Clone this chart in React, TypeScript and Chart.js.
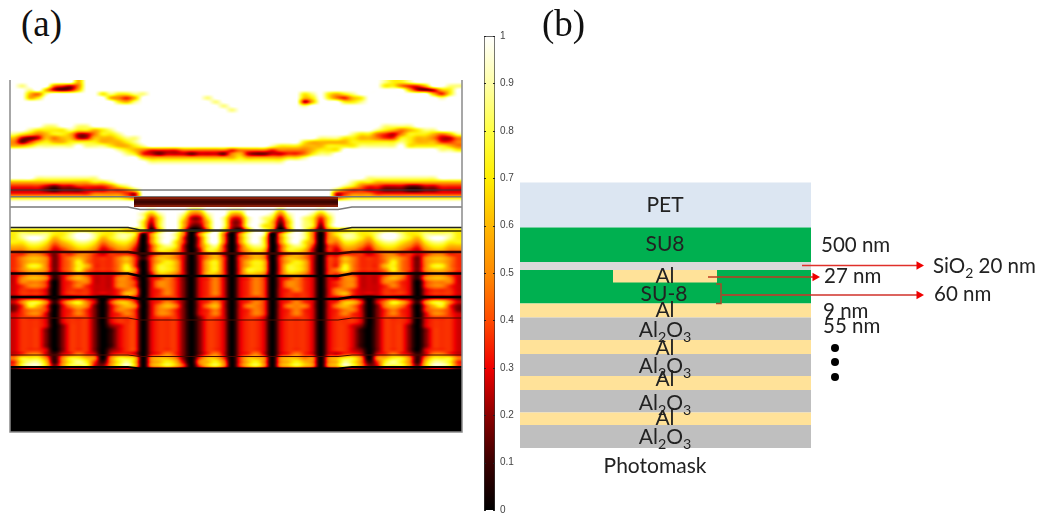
import React, { useEffect, useRef } from "react";
import { Chart, registerables } from "chart.js";

Chart.register(...registerables);

// ---------- panel (a): field intensity; each digit is a level of digitLevels ----------
const digitLevels = [0.0, 0.09, 0.18, 0.27, 0.36, 0.48, 0.6, 0.72, 0.86, 1.0];
const blankRow = "9999 9999 9999 9999  9999 9999 9999 9999 9999 9999  9999 9999 9999 9999";
const darkRow = "0000 0000 0000 0000  0000 0000 0000 0000 0000 0000  0000 0000 0000 0000";
const heatRows = [
  "9999 9999 6999 9999  9999 9999 9999 9999 9999 9999  9999 9987 7899 9999",
  "9899 9543 5999 9999  9999 9999 9999 9999 9999 9999  9999 9977 5446 9988",
  "9989 6323 6999 9999  9999 9999 9999 9999 9999 9999  9999 9999 9632 3679",
  "9965 8999 9997 8778  8999 9999 9999 9999 9999 7897  6789 9999 9999 6479",
  "9967 9999 9999 6546  9999 9999 8999 9999 9999 6797  5467 9999 9999 9899",
  "9999 9999 9999 9768  9999 9999 9899 9999 9999 3699  9778 9999 9999 9999",
  "9999 9999 9999 9999  9999 9999 9989 9999 9999 8999  9999 9999 9999 9999",
  "9999 9999 9999 9999  9999 9999 9998 9999 9999 9999  9999 9999 9999 9999",
  blankRow,
  blankRow,
  blankRow,
  "9999 8899 8899 9999  9999 9999 9999 9999 9999 9999  9999 9988 8899 9999",
  "9987 7778 7767 8999  9999 9999 9999 9999 9999 9999  9999 9876 5678 8999",
  "8765 6776 3357 7899  9999 9999 9999 9999 9999 9999  9987 7543 5777 6568",
  "6323 6566 3366 6788  9999 9999 9999 9999 9999 9988  8776 6544 7766 5335",
  "5246 7667 7776 6678  9999 9999 9999 9999 9999 7666  6677 7777 8766 6445",
  "6678 8888 9888 7667  8999 9999 9999 9999 8777 6667  7778 8888 9777 7765",
  "9999 9999 9999 9876  5444 4555 5554 5555 4555 5677  7999 9999 9999 9887",
  "9999 9999 9999 9987  4323 3323 3325 6322 3344 5788  9999 9999 9999 9999",
  "9999 9999 9999 9999  7666 6666 6666 7666 6677 8999  9999 9999 9999 9999",
  "9999 9999 9999 9999  9888 8888 8888 8888 8899 9999  9999 9999 9999 9999",
  blankRow,
  blankRow,
  blankRow,
  "9998 8888 8889 9999  9999 9999 9999 9999 9999 9999  9999 8888 8888 8999",
  "6666 6666 6677 8999  9999 9999 9999 9999 9999 9999  9987 7666 6666 6666",
  "4444 3233 4444 5789  9999 9999 9999 9999 9999 9999  9875 4433 3223 3444",
  "3333 2122 2333 4457  9999 9999 9999 9999 9999 9999  7544 3322 2112 2333",
  "4444 4444 4455 5543  9999 9999 9999 9999 9999 9999  3455 5444 4444 4444",
  "7777 7777 7777 7765  9999 9999 9999 9999 9999 9999  5677 7777 7777 7777",
  blankRow,
  blankRow,
  "9999 9999 9999 9999  9899 9977 9998 8999 9799 9989  9999 9999 9999 9999",
  "9999 9999 9999 9999  8689 9855 8996 6999 8589 9868  9999 9999 9999 9999",
  "9999 9999 9999 9999  8479 9733 7984 4898 7379 8747  9999 9999 9999 9999",
  "9999 9999 9999 9999  7379 9633 6983 3898 6269 8737  9999 9999 9999 9999",
  "9999 9999 9999 9999  7279 9622 6983 3897 6169 8727  9999 9999 9999 9999",
  "7777 7777 7777 7766  7169 9501 5972 1698 5059 8515  6677 7777 7777 7777",
  "7888 8778 9987 7887  1589 8505 8950 5898 0589 8505  7887 7899 8778 8887",
  "7899 8678 9986 7886  0589 8404 8950 5897 0589 8505  6887 6899 8768 9987",
  "7788 7567 8875 6775  0589 7404 8950 5897 0589 7505  5776 5788 7657 8877",
  "6677 6456 7764 5664  0478 7304 7840 4787 0478 7404  4665 4677 6546 7766",
  "5566 5345 6653 4553  0477 6303 7740 4676 0477 6304  3554 3566 5435 6655",
  "4455 4244 5543 4443  0356 5303 5630 3565 0356 5303  3444 3455 4434 5544",
  "4566 5245 6544 4564  1466 5303 5640 4565 0466 5304  4654 4456 5425 6654",
  "4566 5245 7544 4564  0467 6303 6740 4676 0467 6304  4654 4457 5425 6654",
  "4577 5245 7644 4574  0477 6303 6740 4676 0477 6304  4754 4467 5425 7754",
  "4566 5245 7544 4575  0477 6303 6740 4776 0477 6304  5754 4457 5425 6654",
  "3455 4134 5433 3454  0366 5303 6640 4665 0466 5304  4543 3345 5314 5543",
  "3566 5135 6533 3553  0345 4203 4530 3454 0345 4303  3553 3356 5315 6653",
  "3555 4034 5533 3554  0355 4203 4530 3454 0355 4303  4553 3355 4304 5553",
  "3455 4034 5433 3554  0355 4203 4530 3454 0355 4303  4553 3345 4304 5543",
  "3444 3034 4433 3455  0345 4203 4530 3454 0345 4303  5543 3344 4303 4443",
  "3444 3034 4433 3465  0345 4203 4530 3454 0344 4303  5643 3344 4303 4443",
  "2333 2022 3320 2333  0344 4203 4430 3444 0344 4303  3332 0233 2202 3332",
  "3577 5146 7530 4664  0345 4203 4530 3454 0345 4303  4664 0357 6415 7753",
  "2476 4035 6520 3565  0356 5203 5630 3554 0355 5303  5653 0256 5304 6742",
  "2455 4034 5420 3554  0355 4203 4530 3454 0345 4303  4553 0245 4304 5542",
  "3455 3034 5420 3454  0355 4203 4530 3454 0345 4303  4543 0245 4303 5543",
  "3444 3034 4420 3444  0344 4202 4430 3443 0344 4303  4443 0244 4303 4443",
  "3444 3034 4420 3444  0344 4202 4430 3443 0344 4303  4443 0244 4303 4443",
  "3444 3024 4420 2344  0344 4202 4430 3443 0344 4303  4432 0244 4203 4443",
  "3444 2024 4420 1344  0344 4202 4430 3443 0344 4303  4431 0244 4202 4443",
  "3444 2024 4420 1344  0344 4202 4430 3443 0344 4303  4431 0244 4202 4443",
  "3444 2024 4420 1344  0344 4202 4430 3443 0344 4303  4431 0244 4202 4443",
  "3444 2024 4420 1344  0344 4202 4430 3443 0344 4303  4431 0244 4202 4443",
  "3444 2024 4420 1344  0344 4202 4430 3443 0344 4303  4431 0244 4202 4443",
  "3444 3024 4420 2344  0344 4202 4430 3443 0344 4303  4432 0244 4203 4443",
  "3455 3134 5430 3443  0345 4202 4530 3453 0345 4303  3443 0345 4313 5543",
  "5777 5157 7650 5776  0566 5204 6640 4665 0566 5505  6775 0567 7515 7775",
  "4788 6157 8741 5786  0567 6305 6750 4675 0567 6505  6875 1478 7516 8874",
  "4788 6257 7732 5786  0567 6404 6750 4675 0567 6505  6875 2377 7526 8874",
  darkRow,
  darkRow,
  darkRow,
  darkRow,
  darkRow,
  darkRow,
  darkRow,
  darkRow,
  darkRow,
  darkRow,
  darkRow,
  darkRow,
  darkRow,
  darkRow,
  darkRow,
  darkRow,
];

const colorStopValues = [0, 0.1, 0.2, 0.3, 0.4, 0.5, 0.6, 0.7, 0.8, 0.9, 1];
const colorStopHex = ["#000000", "#3a0000", "#8c0000", "#f00000", "#ff4a00", "#ff8a00", "#ffb800", "#ffee00", "#ffff44", "#ffffa8", "#ffffff"];

// interface lines of the simulated stack, in the panel's own units
const plateX = [124, 328];
const plateY = [122, 122];
const bendX = [0, 118, 130, 328, 342, 452];
const line190Y = [110, 110, 110, 110, 110, 110];
const line197Y = [116.7, 116.7, 116.7, 116.7, 116.7, 116.7];
const line207Y = [127, 127, 129.5, 129.5, 127, 127];
const line228Y = [147.5, 147.5, 150, 150, 147.5, 147.5];
const line231Y = [151, 151, 151, 151, 151, 151];
const line252Y = [172, 172, 173.5, 173.5, 172, 172];
const line273Y = [193.6, 193.6, 196, 196, 193.6, 193.6];
const line297Y = [217, 217, 219, 219, 217, 217];
const line318Y = [238, 238, 240, 240, 238, 238];
const line355Y = [275, 275, 276.5, 276.5, 275, 275];
const line367Y = [287, 287, 288.5, 288.5, 287, 287];
const frameX = [0, 0, 452, 452];
const frameY = [0, 352, 352, 0];

// ---------- colour bar ----------
const colorBarRange = [0, 1];

// ---------- panel (b): layer stack, depth from the top of PET ----------
const layerNames = ["PET", "SU8", "SiO2", "SU-8", "Al", "Al2O3", "Al", "Al2O3", "Al", "Al2O3", "Al", "Al2O3"];
const layerTop = [0, 45, 79.5, 87.5, 121, 135, 157.5, 171.5, 193.5, 207.5, 230, 242.5];
const layerBottom = [45, 79.5, 87.5, 121, 135, 157.5, 171.5, 193.5, 207.5, 230, 242.5, 265.5];
const layerColors = ["#dce6f2", "#00b050", "#d9d9d9", "#00b050", "#ffe299", "#bfbfbf", "#ffe299", "#bfbfbf", "#ffe299", "#bfbfbf", "#ffe299", "#bfbfbf"];
const insetTop = [87.5];
const insetBottom = [100];

const stackLabels = ["PET", "SU8", "Al", "SU-8", "Al", "Al_2O_3", "Al", "Al_2O_3", "Al", "Al_2O_3", "Al", "Al_2O_3", "Photomask"];
const stackLabelX = [145, 145, 145, 144, 145, 145, 145, 145, 145, 145, 145, 145, 135];
const stackLabelY = [29.5, 68.5, 100.5, 118, 134.5, 154.5, 172, 190.5, 203.5, 227.5, 242.5, 261.5, 290.5];
const sideLabels = ["500 nm", "SiO_2 20 nm", "27 nm", "60 nm", "9 nm", "55 nm"];
const sideLabelX = [301, 413, 304, 414, 303, 303];
const sideLabelY = [69.5, 90.5, 100.5, 118.5, 135.5, 150.5];

const arrowSiO2X = [282, 399];
const arrowSiO2Y = [83, 83];
const arrowAlX = [188, 295];
const arrowAlY = [94.5, 94.5];
const arrowSu8X = [202, 399];
const arrowSu8Y = [112.5, 112.5];
const braceX = [196, 201, 201, 196];
const braceY = [101.5, 101.5, 121, 121];
const dotsX = [315, 315, 315];
const dotsY = [165.5, 179.5, 194.5];

const hexToRgb = (h: string) => [parseInt(h.slice(1, 3), 16), parseInt(h.slice(3, 5), 16), parseInt(h.slice(5, 7), 16)];

function heatColor(v: number) {
  let i = 0;
  while (i < colorStopValues.length - 2 && v > colorStopValues[i + 1]) i++;
  const t = (v - colorStopValues[i]) / (colorStopValues[i + 1] - colorStopValues[i]);
  const a = hexToRgb(colorStopHex[i]);
  const b = hexToRgb(colorStopHex[i + 1]);
  return a.map((c, k) => Math.round(c + (b[k] - c) * t));
}

const zip = (xs: number[], ys: number[]) => xs.map((x, i) => ({ x, y: ys[i] }));

const lineSet = (xs: number[], ys: number[], color: string, width: number) => ({
  type: "line" as const,
  data: zip(xs, ys),
  borderColor: color,
  borderWidth: width,
  pointRadius: 0,
  tension: 0,
  fill: false,
  clip: false as any,
  borderCapStyle: "butt" as const,
});

const catmull = (a: number, b: number, c: number, d: number, t: number) =>
  0.5 * (2 * b + (c - a) * t + (2 * a - 5 * b + 4 * c - d) * t * t + (3 * b - a - 3 * c + d) * t * t * t);

const heatmapPlugin = {
  id: "heatmap",
  beforeDatasetsDraw(chart: any) {
    const grid = heatRows.map((r) => Array.from(r.replace(/\s+/g, "")).map((d) => digitLevels[Number(d)]));
    const nRows = grid.length;
    const nCols = grid[0].length;
    const { x, y } = chart.scales;
    const px0 = Math.round(x.getPixelForValue(0));
    const py0 = Math.round(y.getPixelForValue(0));
    const w = Math.round(x.getPixelForValue(452)) - px0;
    const h = Math.round(y.getPixelForValue(352)) - py0;
    const img = chart.ctx.createImageData(w, h);
    const at = (r: number, c: number) => grid[Math.max(0, Math.min(nRows - 1, r))][Math.max(0, Math.min(nCols - 1, c))];
    for (let py = 0; py < h; py++) {
      const fy = ((py + 0.5) / h) * nRows - 0.5;
      const ry = Math.floor(fy);
      const ty = fy - ry;
      for (let px = 0; px < w; px++) {
        const fx = ((px + 0.5) / w) * nCols - 0.5;
        const cx = Math.floor(fx);
        const tx = fx - cx;
        const col = [-1, 0, 1, 2].map((dr) =>
          catmull(at(ry + dr, cx - 1), at(ry + dr, cx), at(ry + dr, cx + 1), at(ry + dr, cx + 2), tx)
        );
        const v = Math.max(0, Math.min(1, catmull(col[0], col[1], col[2], col[3], ty)));
        const [R, G, B] = heatColor(v);
        const o = (py * w + px) * 4;
        img.data[o] = R;
        img.data[o + 1] = G;
        img.data[o + 2] = B;
        img.data[o + 3] = 255;
      }
    }
    chart.ctx.putImageData(img, px0, py0);
  },
};

function drawRich(ctx: CanvasRenderingContext2D, text: string, x: number, y: number, size: number, center: boolean) {
  const parts: { t: string; sub: boolean }[] = [];
  const raw = text.split("_");
  raw.forEach((p, i) => {
    if (i === 0) parts.push({ t: p, sub: false });
    else {
      parts.push({ t: p[0], sub: true });
      if (p.length > 1) parts.push({ t: p.slice(1), sub: false });
    }
  });
  const font = (s: number) => `${s}px Lato`;
  let width = 0;
  parts.forEach((p) => {
    ctx.font = font(p.sub ? size * 0.68 : size);
    width += ctx.measureText(p.t).width;
  });
  let cx = center ? x - width / 2 : x;
  parts.forEach((p) => {
    ctx.font = font(p.sub ? size * 0.68 : size);
    ctx.fillText(p.t, cx, p.sub ? y + size * 0.22 : y);
    cx += ctx.measureText(p.t).width;
  });
}

const stackTextPlugin = {
  id: "stackText",
  afterDatasetsDraw(chart: any) {
    const { x, y } = chart.scales;
    const ctx: CanvasRenderingContext2D = chart.ctx;
    ctx.save();
    ctx.fillStyle = "#222222";
    ctx.textBaseline = "alphabetic";
    ctx.textAlign = "left";
    stackLabels.forEach((t, i) => drawRich(ctx, t, x.getPixelForValue(stackLabelX[i]), y.getPixelForValue(stackLabelY[i]), 21, true));
    sideLabels.forEach((t, i) => drawRich(ctx, t, x.getPixelForValue(sideLabelX[i]), y.getPixelForValue(sideLabelY[i]), 20.5, false));
    ctx.restore();
  },
};

const barTicksPlugin = {
  id: "barTicks",
  afterDatasetsDraw(chart: any) {
    const { y } = chart.scales;
    const { left, right } = chart.chartArea;
    const ctx: CanvasRenderingContext2D = chart.ctx;
    ctx.save();
    ctx.strokeStyle = "#222222";
    ctx.lineWidth = 1;
    y.ticks.forEach((t: any) => {
      const p = Math.round(y.getPixelForValue(t.value)) + 0.5;
      ctx.beginPath();
      ctx.moveTo(left, p);
      ctx.lineTo(left + 2, p);
      ctx.moveTo(right - 2, p);
      ctx.lineTo(right, p);
      ctx.stroke();
    });
    ctx.restore();
  },
};

const hiddenPlugins = { legend: { display: false }, tooltip: { enabled: false }, title: { display: false } };

export default function App() {
  const heatRef = useRef<HTMLCanvasElement>(null);
  const barRef = useRef<HTMLCanvasElement>(null);
  const stackRef = useRef<HTMLCanvasElement>(null);

  useEffect(() => {
    const heat = new Chart(heatRef.current!, {
      type: "line",
      plugins: [heatmapPlugin],
      data: {
        datasets: [
          lineSet(frameX, frameY, "#8a8a8a", 1.5),
          lineSet(plateX, plateY, "#3c0500", 3),
          lineSet(plateX, plateY, "#5a0c02", 6),
          lineSet(plateX, plateY, "#86200a", 10),
          lineSet(bendX, line190Y, "#3a3a3a", 1),
          lineSet(bendX, line197Y, "#7a7a7a", 1.5),
          lineSet(bendX, line207Y, "#7a7a7a", 1.5),
          lineSet(bendX, line228Y, "#222222", 1.3),
          lineSet(bendX, line231Y, "#3a3000", 1.3),
          lineSet(bendX, line252Y, "#3a0500", 2.5),
          lineSet(bendX, line273Y, "#0a0000", 2.5),
          lineSet(bendX, line297Y, "#0a0000", 2.5),
          lineSet(bendX, line318Y, "#4a0800", 1),
          lineSet(bendX, line355Y, "#4a0800", 1),
          lineSet(bendX, line367Y, "#000000", 2),
        ] as any,
      },
      options: {
        responsive: false,
        animation: false,
        layout: { padding: 2, autoPadding: false },
        plugins: hiddenPlugins,
        scales: {
          x: { type: "linear", display: false, min: 0, max: 452 },
          y: { type: "linear", display: false, min: 0, max: 352, reverse: true },
        },
      } as any,
    });

    const bar = new Chart(barRef.current!, {
      type: "bar",
      plugins: [barTicksPlugin],
      data: {
        labels: [""],
        datasets: [
          {
            data: [colorBarRange[1]],
            backgroundColor: (c: any) => {
              const { chart } = c;
              const area = chart.chartArea;
              if (!area) return "#000000";
              const g = chart.ctx.createLinearGradient(0, area.bottom, 0, area.top);
              colorStopValues.forEach((v, i) => g.addColorStop(v, colorStopHex[i]));
              return g;
            },
            borderColor: "#333333",
            borderWidth: 1,
            barPercentage: 1,
            categoryPercentage: 1,
          },
        ],
      },
      options: {
        responsive: false,
        animation: false,
        layout: { padding: { left: 6, top: 8, bottom: 8, right: 0 }, autoPadding: false },
        plugins: hiddenPlugins,
        scales: {
          x: { display: false },
          y: {
            position: "right",
            min: colorBarRange[0],
            max: colorBarRange[1],
            afterFit: (s: any) => {
              s.width = 53;
              s.paddingTop = 0;
              s.paddingBottom = 0;
            },
            border: { display: false },
            grid: { display: false, drawTicks: false },
            ticks: {
              stepSize: 0.1,
              padding: 5,
              color: "#444444",
              font: { family: "Liberation Sans", size: 10 },
              callback: (v: any) => String(Math.round(Number(v) * 10) / 10),
            },
          },
        },
      } as any,
    });

    const center = 145.5;
    const arrowHead = {
      pointRadius: [0, 5],
      pointStyle: "triangle",
      pointRotation: 90,
      pointBackgroundColor: "#f00000",
      pointBorderWidth: 0,
      order: 1,
    };
    const stack = new Chart(stackRef.current!, {
      type: "bar",
      plugins: [stackTextPlugin],
      data: {
        datasets: [
          {
            data: layerNames.map((_, i) => ({ x: center, y: [layerTop[i], layerBottom[i]] })),
            backgroundColor: layerColors,
            barThickness: 291,
            grouped: false,
            inflateAmount: 0,
            order: 10,
          },
          {
            data: insetTop.map((t, i) => ({ x: 145, y: [t, insetBottom[i]] })),
            backgroundColor: "#ffe299",
            barThickness: 104,
            grouped: false,
            inflateAmount: 0,
            order: 9,
          },
          { ...lineSet(braceX, braceY, "#a8482a", 1.5), order: 1 },
          { ...lineSet(arrowSiO2X, arrowSiO2Y, "#e0302a", 1.3), ...arrowHead },
          { ...lineSet(arrowAlX, arrowAlY, "#c03a20", 1.5), ...arrowHead },
          { ...lineSet(arrowSu8X, arrowSu8Y, "#d0302a", 1.3), ...arrowHead },
          {
            type: "scatter",
            data: zip(dotsX, dotsY),
            pointRadius: 4,
            pointBackgroundColor: "#000000",
            pointBorderWidth: 0,
            showLine: false,
            order: 1,
          },
        ] as any,
      },
      options: {
        responsive: false,
        animation: false,
        layout: { padding: 0, autoPadding: false },
        plugins: hiddenPlugins,
        scales: {
          x: { type: "linear", display: false, min: -5, max: 517, offset: false },
          y: { type: "linear", display: false, min: -12.5, max: 307.5, reverse: true },
        },
      } as any,
    });

    return () => {
      heat.destroy();
      bar.destroy();
      stack.destroy();
    };
  }, []);

  const abs = (left: number, top: number): React.CSSProperties => ({ position: "absolute", left, top, display: "block" });
  const panelTitle: React.CSSProperties = { fontFamily: "'Liberation Serif', serif", fontSize: 37, lineHeight: "40px", color: "#111" };

  return (
    <div style={{ position: "fixed", left: 0, top: 0, width: 1037, height: 515, background: "#fff", overflow: "hidden" }}>
      <canvas ref={heatRef} width={456} height={356} style={abs(8, 78)} />
      <canvas ref={barRef} width={70} height={490} style={abs(478, 28)} />
      <canvas ref={stackRef} width={522} height={320} style={abs(515, 170)} />
      <div style={{ ...abs(21, 4), ...panelTitle }}>(a)</div>
      <div style={{ ...abs(542, 4), ...panelTitle }}>(b)</div>
    </div>
  );
}
